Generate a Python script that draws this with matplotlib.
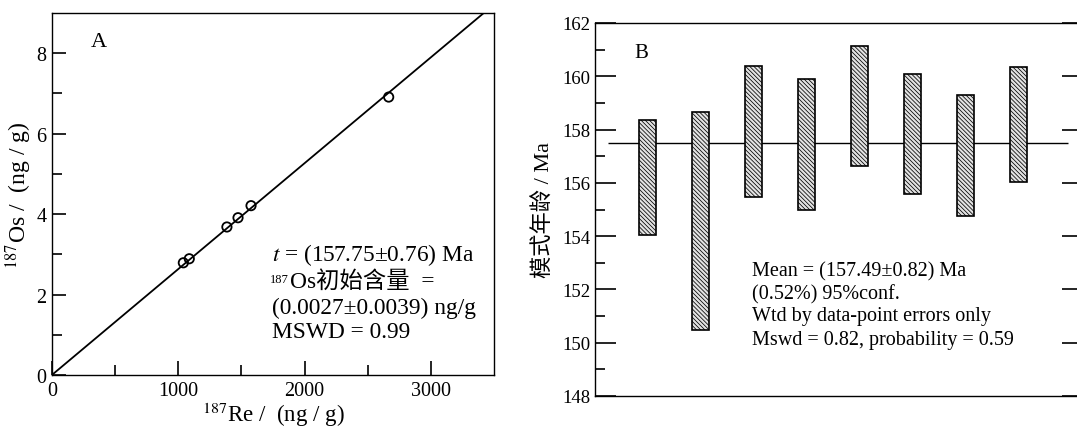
import matplotlib
matplotlib.use("Agg")
import matplotlib.pyplot as plt
import numpy as np

plt.rcParams['font.family'] = ['Liberation Serif', 'Noto Sans CJK SC', 'DejaVu Sans']
plt.rcParams['mathtext.fontset'] = 'stix'
plt.rcParams['hatch.linewidth'] = 0.55
plt.rcParams['hatch.color'] = '#555555'

# ---- Panel A data: Re-Os isochron ----
re187 = [1040, 1087, 1385, 1473, 1576, 2666]
os187 = [2.79, 2.89, 3.68, 3.91, 4.21, 6.91]
iso_age_ma = 157.75
iso_intercept = 0.0027
decay_const = 1.666e-11
a_xticks = [0, 1000, 2000, 3000]
a_yticks = [0, 2, 4, 6, 8]

# ---- Panel B data: model ages ----
sample_idx = [1, 2, 3, 4, 5, 6, 7, 8]
age_low = [154.04, 150.48, 155.48, 154.97, 156.62, 155.59, 154.74, 156.02]
age_high = [158.37, 158.67, 160.39, 159.91, 161.15, 160.09, 159.31, 160.34]
mean_age = 157.49
b_yticks = [148, 150, 152, 154, 156, 158, 160, 162]

fig = plt.figure(figsize=(10.77, 4.27), dpi=100)

# ================= Panel A =================
axA = fig.add_axes([52/1077, 51/427, 442/1077, 362/427])
slope = np.exp(decay_const * iso_age_ma * 1e6) - 1
xl = np.array([0, 3500])
axA.plot(xl, iso_intercept + slope * xl, color='black', lw=1.3, zorder=2)
axA.scatter(re187, os187, s=45, facecolors='none', edgecolors='black', linewidths=1.3, zorder=3)
axA.set_xlim(0, 3500)
axA.set_ylim(0, 9)
axA.set_xticks(a_xticks)
axA.set_xticks([500, 1500, 2500], minor=True)
axA.set_yticks(a_yticks)
axA.set_yticks([1, 3, 5, 7], minor=True)
axA.tick_params(which='both', direction='in', top=False, right=False, labelsize=14.5, width=1.2, pad=4)
axA.tick_params(which='major', length=10)
axA.tick_params(which='minor', length=7)
for s in axA.spines.values():
    s.set_linewidth(1.0)
axA.set_xlabel('$^{187}$Re /  (ng / g)', fontsize=16.5, labelpad=0)
axA.set_ylabel('$^{187}$Os /  (ng / g)', fontsize=17, labelpad=2)
axA.text(0.0875, 0.92, 'A', transform=axA.transAxes, fontsize=16, ha='left', va='center')

a_fs = 16.8
axA.text(0.498, (376 - 255) / 362, '$t$ = (157.75±0.76) Ma', transform=axA.transAxes,
         fontsize=a_fs, ha='left', va='center')
line2 = axA.text(0.538, (376 - 282) / 362, 'Os初始含量  =', transform=axA.transAxes,
                 fontsize=a_fs, ha='left', va='center')
axA.annotate('187', xy=(0, 1), xycoords=line2, xytext=(-0.5, -2), textcoords='offset points',
             fontsize=9, ha='right', va='top')
axA.text(0.498, (376 - 308) / 362, '(0.0027±0.0039) ng/g', transform=axA.transAxes,
         fontsize=a_fs, ha='left', va='center')
axA.text(0.498, (376 - 333) / 362, 'MSWD = 0.99', transform=axA.transAxes,
         fontsize=a_fs, ha='left', va='center')

# ================= Panel B =================
axB = fig.add_axes([595/1077, 30/427, 488/1077, 373/427])
axB.hlines(mean_age, 0.25, 8.94, color='black', lw=1.0, zorder=1)
heights = [h - l for h, l in zip(age_high, age_low)]
axB.bar(sample_idx, heights, bottom=age_low, width=0.32, facecolor='#e2e2e2',
        edgecolor='black', linewidth=1.2, hatch='\\\\\\\\\\\\\\\\', zorder=2)
axB.set_xlim(0, 488 / 52.9)
axB.set_ylim(148, 162)
axB.set_yticks(b_yticks)
axB.set_yticks([149, 151, 153, 155, 157, 159, 161], minor=True)
axB.set_xticks([])
axB.spines['right'].set_visible(False)
for s in axB.spines.values():
    s.set_linewidth(1.0)
axB.tick_params(axis='y', which='both', direction='in', left=True, right=True,
                labelsize=13.5, width=1.2, pad=3)
axB.tick_params(axis='y', which='major', length=15)
axB.tick_params(axis='y', which='minor', length=7, right=False)
axB.set_ylabel('模式年龄 / Ma', fontsize=16, labelpad=6)
axB.text(0.08, 0.922, 'B', transform=axB.transAxes, fontsize=15, ha='left', va='center')
b_lines = ['Mean = (157.49±0.82) Ma',
           '(0.52%) 95%conf.',
           'Wtd by data-point errors only',
           'Mswd = 0.82, probability = 0.59']
b_ys = [272, 295, 317, 340]
for txt, yp in zip(b_lines, b_ys):
    axB.text(0.322, (397 - yp) / 373, txt, transform=axB.transAxes, fontsize=14.5,
             ha='left', va='center')

fig.savefig('out.png', dpi=100)
